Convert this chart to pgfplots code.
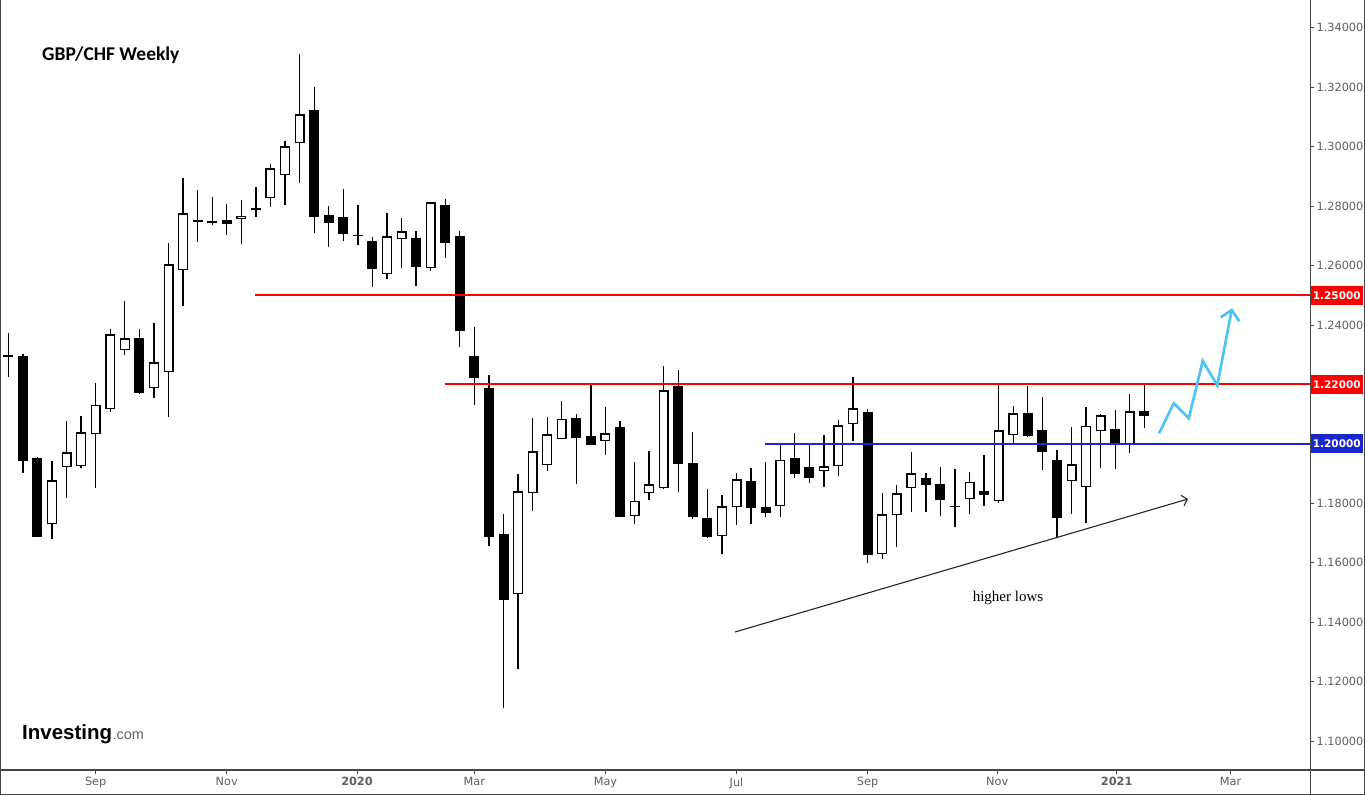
\documentclass[border=0pt]{standalone}
\usepackage{pgfplots}
\pgfplotsset{compat=1.18}
\usepackage{pgfplotstable}
\usepackage{fontspec}
\setmainfont{DejaVu Sans}
\newfontfamily\titlefont{Carlito}
\newfontfamily\logofont{Liberation Sans}
\newfontfamily\notefont{Liberation Serif}
\usetikzlibrary{arrows.meta}
\definecolor{lineblue}{RGB}{25,40,205}
\definecolor{arrowblue}{RGB}{80,195,245}
\definecolor{labelgray}{RGB}{95,95,95}
\definecolor{axisgray}{RGB}{70,70,70}

% weekly candles: index, open, high, low, close
\pgfplotstableread{
n o h l c
1 1.2299 1.2373 1.2226 1.2293
2 1.2295 1.2302 1.1903 1.1943
3 1.1952 1.1955 1.1685 1.1687
4 1.1729 1.1942 1.1679 1.1877
5 1.1921 1.2077 1.1819 1.1971
6 1.1924 1.2094 1.1918 1.2039
7 1.2032 1.2205 1.1852 1.2130
8 1.2116 1.2386 1.2108 1.2368
9 1.2315 1.2481 1.2300 1.2355
10 1.2355 1.2386 1.2169 1.2172
11 1.2187 1.2407 1.2155 1.2274
12 1.2241 1.2676 1.2091 1.2604
13 1.2584 1.2894 1.2465 1.2776
14 1.2753 1.2854 1.2680 1.2747
15 1.2742 1.2830 1.2737 1.2749
16 1.2752 1.2807 1.2704 1.2739
17 1.2755 1.2820 1.2673 1.2766
18 1.2786 1.2864 1.2764 1.2792
19 1.2826 1.2942 1.2798 1.2927
20 1.2904 1.3019 1.2805 1.3001
21 1.3011 1.3312 1.2879 1.3109
22 1.3123 1.3201 1.2710 1.2764
23 1.2770 1.2800 1.2663 1.2744
24 1.2762 1.2857 1.2682 1.2707
25 1.2703 1.2804 1.2670 1.2700
26 1.2682 1.2697 1.2529 1.2589
27 1.2570 1.2777 1.2556 1.2698
28 1.2688 1.2760 1.2592 1.2715
29 1.2693 1.2716 1.2531 1.2595
30 1.2591 1.2815 1.2582 1.2812
31 1.2803 1.2824 1.2626 1.2676
32 1.2698 1.2715 1.2325 1.2379
33 1.2297 1.2394 1.2129 1.2223
34 1.2189 1.2233 1.1656 1.1686
35 1.1696 1.1763 1.1110 1.1473
36 1.1495 1.1898 1.1241 1.1840
37 1.1833 1.2088 1.1775 1.1975
38 1.1927 1.2091 1.1907 1.2032
39 1.2016 1.2144 1.2015 1.2084
40 1.2088 1.2100 1.1865 1.2019
41 1.2026 1.2205 1.1996 1.1997
42 1.2008 1.2124 1.1963 1.2035
43 1.2056 1.2077 1.1754 1.1755
44 1.1756 1.1939 1.1731 1.1807
45 1.1833 1.1976 1.1812 1.1864
46 1.1850 1.2262 1.1847 1.2180
47 1.2195 1.2248 1.1839 1.1933
48 1.1934 1.2040 1.1748 1.1755
49 1.1749 1.1848 1.1684 1.1687
50 1.1689 1.1828 1.1630 1.1790
51 1.1786 1.1902 1.1728 1.1881
52 1.1874 1.1919 1.1731 1.1785
53 1.1786 1.1939 1.1755 1.1768
54 1.1790 1.2004 1.1755 1.1945
55 1.1951 1.2036 1.1886 1.1899
56 1.1921 1.2001 1.1869 1.1886
57 1.1908 1.2029 1.1856 1.1924
58 1.1924 1.2080 1.1893 1.2062
59 1.2066 1.2225 1.2010 1.2119
60 1.2107 1.2117 1.1600 1.1627
61 1.1628 1.1835 1.1613 1.1763
62 1.1759 1.1861 1.1654 1.1833
63 1.1850 1.1972 1.1772 1.1901
64 1.1885 1.1903 1.1772 1.1862
65 1.1864 1.1922 1.1758 1.1810
66 1.1792 1.1916 1.1721 1.1786
67 1.1813 1.1905 1.1763 1.1871
68 1.1840 1.1962 1.1792 1.1827
69 1.1807 1.2201 1.1802 1.2045
70 1.2029 1.2127 1.1997 1.2103
71 1.2104 1.2195 1.2022 1.2027
72 1.2046 1.2157 1.1912 1.1973
73 1.1945 1.1979 1.1685 1.1751
74 1.1874 1.2057 1.1765 1.1931
75 1.1854 1.2124 1.1735 1.2060
76 1.2042 1.2099 1.1920 1.2096
77 1.2049 1.2114 1.1916 1.1998
78 1.1998 1.2168 1.1970 1.2109
79 1.2109 1.2198 1.2054 1.2093
}\candles

\pgfplotsset{
  candlepart/.style={only marks, mark=*, mark size=0pt,
    mark options={draw=none, fill=none}, forget plot},
}

\begin{document}
\begin{tikzpicture}[x=1pt,y=1pt]
\fill[white] (0,0) rectangle (1365,795);
\begin{axis}[
  at={(0pt,25pt)}, anchor=south west, scale only axis,
  width=1310pt, height=770pt,
  xmin=0.4301, xmax=90.378, ymin=1.09024, ymax=1.34933,
  axis x line*=bottom, axis y line*=right,
  axis line style={draw=axisgray, line width=1pt},
  tick align=outside, major tick length=4pt,
  tick style={axisgray, line width=0.8pt},
  xtick={7,16,24.94,33,42,51,60,68.9,77.1,84.92},
  xticklabels={Sep,Nov,\textbf{2020},Mar,May,Jul,Sep,Nov,\textbf{2021},Mar},
  ytick={1.10,1.12,1.14,1.16,1.18,1.24,1.26,1.28,1.30,1.32,1.34},
  yticklabels={1.10000,1.12000,1.14000,1.16000,1.18000,1.24000,1.26000,1.28000,1.30000,1.32000,1.34000},
  tick label style={font=\fontsize{11.3}{13}\selectfont, text=labelgray},
  yticklabel style={anchor=west, xshift=-1pt},
  clip mode=individual,
]
% wicks
\addplot[black, candlepart,
  error bars/.cd, y dir=plus, y explicit, error mark=none,
  error bar style={line width=1.3pt, black}]
  table[x=n, y=l, y error plus expr={\thisrow{h}-\thisrow{l}}] {\candles};
% bodies (black outline / fill)
\addplot[black, candlepart,
  error bars/.cd, y dir=plus, y explicit, error mark=none,
  error bar style={line width=10pt, black}]
  table[x=n, y expr={min(\thisrow{o},\thisrow{c})},
        y error plus expr={abs(\thisrow{c}-\thisrow{o})}] {\candles};
% white interiors of rising candles
\addplot[white, candlepart,
  error bars/.cd, y dir=plus, y explicit, error mark=none,
  error bar style={line width=7.4pt, white}]
  table[x=n, y expr={min(\thisrow{o},\thisrow{c})+0.00045},
        y error plus expr={(\thisrow{c}>\thisrow{o})*max(abs(\thisrow{c}-\thisrow{o})-0.0009,0)}] {\candles};

% levels
\addplot[red, line width=2pt] coordinates {(17.94,1.25) (91,1.25)};
\addplot[red, line width=2pt] coordinates {(30.97,1.22) (91,1.22)};
\addplot[lineblue, line width=2pt] coordinates {(52.94,1.20) (91,1.20)};

% trend line
\addplot[black!85, line width=1.1pt, -{Straight Barb[length=5pt,width=11pt]}]
  coordinates {(50.90,1.13668) (82.00,1.18143)};

% projected path
\addplot[arrowblue, line width=2.7pt]
  coordinates {(80.01,1.20353) (81.02,1.21363) (82.05,1.20858) (83.01,1.22786) (84.01,1.21968) (85.00,1.24502)};
\addplot[arrowblue, line width=2.7pt]
  coordinates {(84.25,1.24256) (85.00,1.24502) (85.52,1.24122)};

% price boxes
\node[fill=red, text=white, font=\bfseries\fontsize{10.5}{12}\selectfont, anchor=west,
  minimum width=53pt, minimum height=19pt, inner sep=0pt] at (axis cs:90.378,1.25) {1.25000};
\node[fill=red, text=white, font=\bfseries\fontsize{10.5}{12}\selectfont, anchor=west,
  minimum width=53pt, minimum height=19pt, inner sep=0pt] at (axis cs:90.378,1.22) {1.22000};
\node[fill=lineblue, text=white, font=\bfseries\fontsize{10.5}{12}\selectfont, anchor=west,
  minimum width=53pt, minimum height=19pt, inner sep=0pt] at (axis cs:90.378,1.20) {1.20000};

\node[font=\notefont\fontsize{15}{16}\selectfont, inner sep=0pt] at (axis cs:69.64,1.1481) {higher lows};
\end{axis}

% frame
\draw[axisgray, line width=1pt] (0,25) -- (1365,25);
\draw[axisgray, line width=1pt] (1310,0) -- (1310,795);
\draw[axisgray, line width=1.4pt] (0.7,0) -- (0.7,795);
\draw[axisgray, line width=1.4pt] (0,0.7) -- (1365,0.7);
\draw[axisgray, line width=1.4pt] (1364.3,0) -- (1364.3,795);

% title and logo
\node[anchor=west, inner sep=0pt, font=\titlefont\bfseries\fontsize{19.5}{21}\selectfont] at (42,740) {GBP/CHF Weekly};
\node[anchor=base west, inner sep=0pt, font=\logofont\bfseries\fontsize{20.5}{22}\selectfont] (inv) at (22,56) {Investing};
\node[anchor=base west, inner sep=0pt, font=\logofont\fontsize{14.5}{16}\selectfont, text=black!60] at (inv.base east) {.com};

\pgfresetboundingbox
\path (0,0) rectangle (1365,795);
\end{tikzpicture}
\end{document}
